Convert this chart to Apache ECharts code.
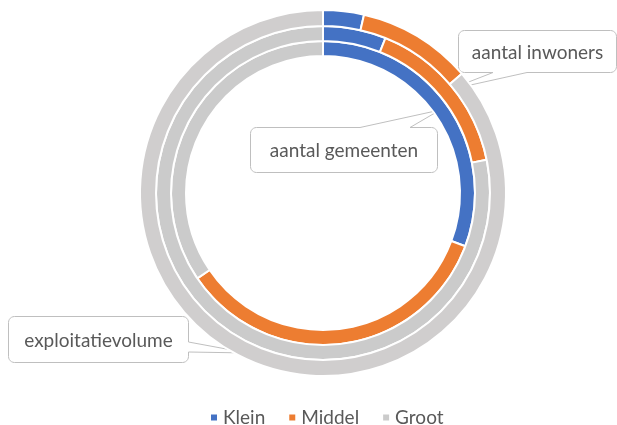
<!DOCTYPE html>
<html>
<head>
<meta charset="utf-8">
<script src="https://cdn.jsdelivr.net/npm/echarts@6/dist/echarts.min.js"></script>
<style>html,body{margin:0;padding:0;background:#fff}#c{width:617px;height:425px}</style>
</head>
<body>
<div id="c"></div>
<script>
// Data
const categories = ['Klein', 'Middel', 'Groot'];
const seriesNames = ['aantal gemeenten', 'aantal inwoners', 'exploitatievolume'];
const gemeenten = [30.7, 34.8, 34.5];
const inwoners = [6.1, 15.7, 78.2];
const exploitatievolume = [3.6, 10.1, 86.3];

const colors = ['#4472C4', '#ED7D31', '#C9C9C9'];
const FONT = 'Lato, "Open Sans", sans-serif';
const cx = 323, cy = 193;

function ring(name, values, r0, r1, grey) {
  return {
    type: 'pie', name: name, center: [cx, cy], radius: [r0, r1],
    startAngle: 90, clockwise: true, silent: true, animation: false,
    label: {show: false}, labelLine: {show: false},
    itemStyle: {borderColor: '#fff', borderWidth: 2},
    data: categories.map((c, i) => ({name: c, value: values[i],
      itemStyle: {color: i === 2 ? grey : colors[i]}}))
  };
}

function corner(pts, ccx, ccy, r, a0, a1) {
  const n = 6;
  for (let i = 0; i <= n; i++) {
    const a = (a0 + (a1 - a0) * i / n) * Math.PI / 180;
    pts.push([ccx + r * Math.cos(a), ccy + r * Math.sin(a)]);
  }
}
// callout outline: rounded box with pointer on given edge
function callout(x, y, w, h, r, edge, a, b, tx, ty) {
  const p = [];
  corner(p, x + r, y + r, r, 180, 270);
  if (edge === 'top') { p.push([a, y], [tx, ty], [b, y]); }
  corner(p, x + w - r, y + r, r, 270, 360);
  if (edge === 'right') { p.push([x + w, a], [tx, ty], [x + w, b]); }
  corner(p, x + w - r, y + h - r, r, 0, 90);
  if (edge === 'bottom') { p.push([b, y + h], [tx, ty], [a, y + h]); }
  corner(p, x + r, y + h - r, r, 90, 180);
  return p;
}
function calloutGraphic(text, x, y, w, h, edge, a, b, tx, ty) {
  return [{
    type: 'polygon', silent: true,
    shape: {points: callout(x, y, w, h, 6, edge, a, b, tx, ty)},
    style: {fill: '#fff', stroke: '#BFBFBF', lineWidth: 1}
  }, {
    type: 'text', silent: true, x: x + w / 2, y: y + h / 2 + 1,
    style: {text: text, fill: '#595959', font: '19px ' + FONT, align: 'center', verticalAlign: 'middle'}
  }];
}

const chart = echarts.init(document.getElementById('c'), null, {renderer: 'canvas'});
chart.setOption({
  animation: false,
  color: colors,
  legend: {
    data: categories, left: 209, top: 408, padding: 0,
    icon: 'rect', itemWidth: 8, itemHeight: 8, itemGap: 22,
    textStyle: {color: '#595959', fontSize: 19, fontFamily: FONT}
  },
  series: [
    ring(seriesNames[0], gemeenten, 137, 152, '#CBCBCB'),
    ring(seriesNames[1], inwoners, 152, 167, '#CBCBCB'),
    ring(seriesNames[2], exploitatievolume, 167, 183, '#D0CECE')
  ],
  graphic: [].concat(
    calloutGraphic(seriesNames[1], 458.5, 30.5, 158, 42, 'bottom', 493, 527, 448, 90),
    calloutGraphic(seriesNames[0], 250.5, 127.5, 187, 45, 'top', 360, 410, 440, 110),
    calloutGraphic(seriesNames[2], 8.5, 316.5, 180, 46, 'right', 342, 352, 248, 353)
  )
});
</script>
</body>
</html>
